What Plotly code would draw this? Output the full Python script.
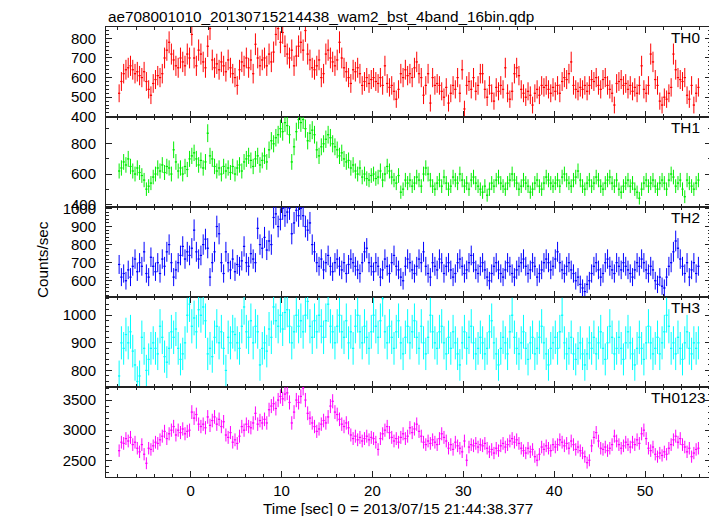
import numpy as np
import plotly.graph_objects as go
from plotly.subplots import make_subplots

title_text = "ae708001010_20130715214438_wam2_bst_4band_16bin.qdp"
x_title = "Time [sec] 0 = 2013/07/15 21:44:38.377"
y_title = "Counts/sec"
band_names = ["TH0", "TH1", "TH2", "TH3", "TH0123"]
band_colors = ["#ff0000", "#00ee00", "#0000ff", "#00ffff", "#ff00ff"]
bin_start = -8.0
bin_width = 0.25

th0 = [
    520, 580, 620, 640, 650, 660, 640, 620, 630, 610, 600, 630, 580, 540, 510, 570,
    590, 610, 600, 620, 700, 740, 780, 720, 690, 660, 650, 700, 680, 660, 720, 700,
    820, 700, 660, 740, 720, 680, 650, 760, 850, 690, 650, 670, 640, 680, 660, 630,
    690, 650, 620, 600, 560, 640, 680, 660, 700, 650, 690, 620, 770, 700, 660, 690,
    700, 660, 720, 680, 730, 820, 850, 780, 830, 760, 720, 700, 740, 660, 710, 760,
    780, 740, 840, 720, 690, 650, 640, 660, 690, 600, 620, 720, 740, 700, 680, 660,
    690, 780, 700, 650, 630, 600, 570, 640, 630, 650, 620, 560, 580, 600, 570, 590,
    600, 580, 570, 600, 560, 660, 570, 550, 560, 530, 490, 540, 620, 600, 640, 610,
    620, 600, 650, 680, 620, 600, 510, 560, 620, 470, 600, 560, 570, 560, 530, 500,
    550, 470, 520, 560, 540, 600, 520, 640, 440, 560, 580, 540, 600, 530, 560, 620,
    620, 540, 500, 560, 520, 480, 550, 530, 560, 540, 650, 520, 490, 530, 620, 650,
    610, 540, 520, 500, 530, 510, 460, 520, 540, 510, 560, 550, 560, 540, 520, 550,
    530, 560, 520, 580, 600, 590, 620, 680, 560, 540, 530, 550, 540, 560, 530, 560,
    590, 580, 600, 560, 540, 590, 600, 560, 540, 520, 460, 570, 580, 590, 560, 570,
    540, 560, 530, 550, 520, 560, 660, 540, 520, 560, 720, 680, 590, 560, 480, 460,
    500, 490, 520, 550, 720, 640, 600, 590, 580, 600, 510, 490, 560, 460, 520, 550,
]

th1 = [
    620, 640, 680, 660, 700, 650, 620, 600, 640, 610, 590, 560, 500, 520, 540, 580,
    600, 640, 620, 660, 610, 650, 640, 600, 760, 680, 620, 640, 600, 650, 630, 700,
    720, 740, 700, 660, 690, 640, 680, 870, 720, 700, 650, 620, 640, 600, 650, 620,
    640, 610, 650, 600, 640, 660, 620, 680, 700, 720, 690, 650, 700, 720, 660, 690,
    720, 680, 760, 820, 800, 840, 860, 900, 880, 940, 920, 860, 680, 780, 880, 960,
    940, 960, 900, 820, 870, 890, 860, 760, 720, 780, 800, 830, 860, 840, 800, 780,
    760, 720, 740, 700, 680, 690, 640, 660, 620, 600, 640, 580, 600, 570, 560, 590,
    600, 570, 580, 620, 560, 600, 650, 620, 580, 560, 540, 590, 480, 500, 560, 540,
    560, 520, 540, 580, 560, 520, 600, 640, 600, 560, 520, 500, 540, 560, 520, 580,
    540, 500, 520, 580, 560, 540, 600, 560, 520, 540, 500, 560, 580, 540, 520, 500,
    480, 520, 460, 500, 540, 520, 560, 580, 540, 520, 500, 540, 560, 600, 560, 540,
    500, 520, 560, 540, 520, 480, 500, 540, 560, 520, 500, 540, 580, 560, 540, 520,
    540, 560, 520, 580, 600, 560, 540, 520, 560, 580, 620, 560, 520, 500, 540, 560,
    520, 540, 580, 560, 520, 500, 540, 560, 580, 540, 520, 560, 500, 480, 520, 540,
    560, 520, 540, 500, 480, 440, 500, 540, 560, 520, 540, 560, 520, 500, 540, 560,
    540, 500, 560, 600, 580, 520, 540, 560, 500, 450, 560, 540, 520, 500, 540, 560,
]

th2 = [
    690, 620, 640, 600, 660, 620, 680, 720, 650, 700, 680, 760, 640, 620, 730, 680,
    650, 700, 640, 720, 680, 760, 800, 700, 620, 660, 700, 740, 790, 720, 760, 740,
    780, 880, 760, 720, 740, 800, 830, 780, 620, 700, 760, 900, 860, 700, 640, 760,
    700, 660, 720, 650, 690, 680, 710, 790, 700, 680, 750, 720, 700, 890, 800, 780,
    840, 770, 820, 800, 950, 970, 900, 940, 1000, 960, 980, 1000, 860, 920, 990, 960,
    1000, 960, 900, 880, 920, 800, 760, 700, 680, 720, 660, 700, 740, 680, 650, 700,
    720, 680, 660, 700, 640, 690, 720, 700, 680, 660, 640, 700, 760, 780, 700, 680,
    650, 700, 680, 620, 660, 720, 680, 640, 700, 740, 680, 660, 620, 600, 680, 720,
    700, 660, 640, 680, 720, 700, 760, 680, 640, 620, 700, 680, 660, 720, 700, 640,
    680, 700, 660, 620, 640, 700, 720, 680, 640, 660, 700, 740, 700, 660, 640, 680,
    700, 660, 620, 600, 640, 680, 700, 660, 640, 620, 660, 700, 680, 640, 620, 660,
    680, 700, 720, 680, 640, 660, 700, 680, 620, 640, 660, 700, 720, 700, 660, 680,
    720, 760, 700, 660, 640, 680, 700, 660, 640, 600, 620, 580, 560, 540, 580, 600,
    640, 680, 700, 660, 620, 640, 700, 720, 680, 660, 640, 700, 680, 660, 700, 680,
    660, 640, 620, 660, 700, 680, 720, 700, 660, 640, 680, 660, 600, 580, 620, 570,
    560, 620, 680, 700, 760, 820, 780, 720, 680, 640, 700, 620, 660, 700, 640, 680,
]

th3 = [
    780, 900, 880, 930, 900, 940, 870, 820, 760, 780, 920, 880, 800, 840, 880, 900,
    880, 860, 960, 920, 850, 830, 880, 940, 920, 950, 880, 840, 860, 900, 1000, 1040,
    960, 990, 940, 1020, 1000, 1030, 980, 860, 880, 850, 920, 960, 900, 940, 880, 800,
    920, 900, 940, 930, 900, 880, 960, 1030, 940, 920, 980, 900, 960, 940, 820, 880,
    900, 870, 950, 920, 1030, 980, 960, 1000, 950, 1010, 1020, 960, 900, 940, 1000, 960,
    980, 940, 1000, 1050, 960, 920, 980, 940, 1000, 960, 920, 980, 1040, 960, 940, 900,
    960, 1000, 940, 920, 980, 900, 940, 880, 960, 1000, 940, 900, 960, 920, 880, 940,
    1000, 960, 920, 980, 1060, 940, 900, 960, 920, 880, 940, 980, 900, 860, 920, 960,
    900, 940, 980, 920, 880, 960, 900, 860, 920, 1000, 940, 900, 880, 940, 960, 900,
    860, 920, 880, 940, 900, 860, 820, 900, 940, 880, 920, 960, 900, 860, 880, 920,
    900, 860, 880, 940, 980, 900, 860, 820, 880, 920, 900, 860, 940, 1000, 920, 880,
    860, 900, 940, 880, 840, 900, 920, 860, 880, 920, 960, 900, 860, 820, 880, 900,
    920, 880, 940, 1000, 900, 860, 880, 920, 860, 840, 880, 900, 860, 820, 860, 900,
    880, 920, 860, 900, 940, 880, 840, 900, 960, 920, 860, 880, 920, 880, 840, 900,
    940, 900, 860, 820, 880, 920, 880, 840, 900, 960, 900, 860, 880, 920, 860, 900,
    940, 1000, 960, 880, 900, 860, 920, 880, 840, 900, 940, 880, 860, 900, 880, 900,
]

th0123 = [
    2660, 2800, 2780, 2860, 2820, 2880, 2760, 2800, 2700, 2640, 2760, 2600, 2450, 2700, 2680, 2740,
    2800, 2780, 2840, 2900, 2980, 2860, 2940, 3000, 3060, 2920, 3000, 2960, 3020, 2940, 2980, 3000,
    3300, 3200, 3260, 3100, 3060, 3100, 3040, 3220, 3080, 3160, 3220, 3100, 3180, 3060, 3140, 2920,
    2880, 2960, 2800, 2840, 2780, 2900, 3060, 3000, 3100, 3060, 3040, 3120, 3280, 3100, 3160, 3120,
    3180, 3120, 3340, 3400, 3440, 3360, 3500, 3560, 3520, 3600, 3620, 3460, 3120, 3300, 3500, 3460,
    3560, 3700, 3500, 3280, 3200, 3120, 3060, 2980, 3020, 3100, 3160, 3120, 3220, 3400, 3480, 3300,
    3260, 3180, 3100, 3060, 3120, 3040, 2920, 2860, 2900, 2840, 2880, 2820, 2860, 2900, 2840, 2880,
    2860, 2800, 2680, 2860, 2940, 3000, 3060, 2960, 2880, 2820, 2860, 2800, 2880, 2940, 2860, 2900,
    3040, 2960, 3020, 3100, 2980, 2900, 2800, 2760, 2820, 2780, 2840, 2800, 2760, 2860, 2940, 2880,
    2820, 2700, 2760, 2680, 2800, 2740, 2700, 2640, 2820, 2500, 2720, 2760, 2740, 2780, 2720, 2760,
    2740, 2780, 2700, 2640, 2680, 2620, 2700, 2660, 2740, 2780, 2720, 2760, 2820, 2860, 2800, 2840,
    2780, 2700, 2660, 2620, 2700, 2640, 2680, 2560, 2500, 2600, 2720, 2680, 2740, 2700, 2660, 2760,
    2720, 2760, 2840, 2800, 2740, 2780, 2700, 2820, 2760, 2680, 2720, 2660, 2620, 2560, 2460, 2500,
    2740, 2880, 2960, 2820, 2700, 2680, 2720, 2660, 2700, 2760, 2900, 2820, 2760, 2700, 2740, 2800,
    2760, 2720, 2800, 2760, 2840, 2780, 2940, 3000, 2860, 2700, 2660, 2720, 2600, 2560, 2620, 2580,
    2640, 2600, 2700, 2760, 2840, 2900, 2800, 2860, 2760, 2720, 2640, 2700, 2560, 2620, 2680, 2700,
]

series = [th0, th1, th2, th3, th0123]
y_ranges = [[399, 858], [382, 977], [510, 1008], [740, 1066], [2222, 3717]]
y_dticks = [100, 200, 100, 100, 500]
y_minor = [20, 100, 20, 20, 100]
label_right = [0.985, 0.985, 0.985, 0.985, 0.993]

FONT = "Liberation Sans, Arial, Helvetica, sans-serif"
AXC = "#222222"
TICK_FS = 15
LABEL_FS = 15.3

fig = make_subplots(rows=5, cols=1, shared_xaxes=True, vertical_spacing=0)

for k, vals in enumerate(series):
    v = np.array(vals, dtype=float)
    n = len(v)
    t = bin_start + bin_width * (np.arange(n) + 0.5)
    err = np.sqrt(v * bin_width) / bin_width
    fig.add_trace(
        go.Scatter(
            x=t, y=v, mode="markers",
            marker=dict(size=1, color=band_colors[k]),
            error_y=dict(type="data", array=err, color=band_colors[k], thickness=1, width=0),
            error_x=dict(type="constant", value=bin_width / 2, color=band_colors[k], thickness=1.2, width=0),
            showlegend=False, hoverinfo="skip",
        ),
        row=k + 1, col=1,
    )
    fig.update_yaxes(
        range=y_ranges[k], dtick=y_dticks[k], tick0=0,
        ticks="inside", ticklen=6, tickwidth=1, tickcolor=AXC,
        minor=dict(dtick=y_minor[k], ticklen=3, tickwidth=1, tickcolor=AXC, ticks="inside"),
        showline=True, linecolor=AXC, linewidth=1, mirror="allticks",
        showgrid=False, zeroline=False,
        tickfont=dict(family=FONT, size=TICK_FS, color="black"),
        ticklabelstandoff=6,
        row=k + 1, col=1,
    )
    fig.update_xaxes(
        range=[-9.32, 57.26], dtick=10, tick0=0,
        ticks="inside", ticklen=6, tickwidth=1, tickcolor=AXC,
        minor=dict(dtick=2, ticklen=3, tickwidth=1, tickcolor=AXC, ticks="inside"),
        showline=True, linecolor=AXC, linewidth=1, mirror="allticks",
        showgrid=False, zeroline=False,
        showticklabels=(k == 4),
        tickfont=dict(family=FONT, size=TICK_FS, color="black"),
        row=k + 1, col=1,
    )
    yref = "y domain" if k == 0 else f"y{k+1} domain"
    xref = "x domain" if k == 0 else f"x{k+1} domain"
    fig.add_annotation(
        text=band_names[k], xref=xref, yref=yref, x=label_right[k], y=1.0,
        xanchor="right", yanchor="top", yshift=0, showarrow=False,
        font=dict(family=FONT, size=LABEL_FS, color="black"),
    )

fig.add_annotation(
    text=title_text, xref="paper", yref="paper", x=0.0, y=1.0, yshift=11,
    xanchor="left", yanchor="middle", showarrow=False,
    font=dict(family=FONT, size=LABEL_FS, color="black"),
)
fig.add_annotation(
    text=x_title, xref="paper", yref="paper", x=0.5, xshift=-11, y=0.0, yshift=-31,
    xanchor="center", yanchor="middle", showarrow=False,
    font=dict(family=FONT, size=LABEL_FS, color="black"),
)
fig.add_annotation(
    text=y_title, xref="paper", yref="paper", x=0.0, xshift=-64, y=0.5, yshift=-8,
    xanchor="center", yanchor="middle", textangle=-90, showarrow=False,
    font=dict(family=FONT, size=LABEL_FS, color="black"),
)

# page body adds an 8px offset, so the figure is 8px smaller on each axis
fig.update_layout(
    width=709, height=508,
    margin=dict(l=98, r=6, t=19, b=39),
    paper_bgcolor="white", plot_bgcolor="white",
    showlegend=False,
)

fig.write_html("out.html")
